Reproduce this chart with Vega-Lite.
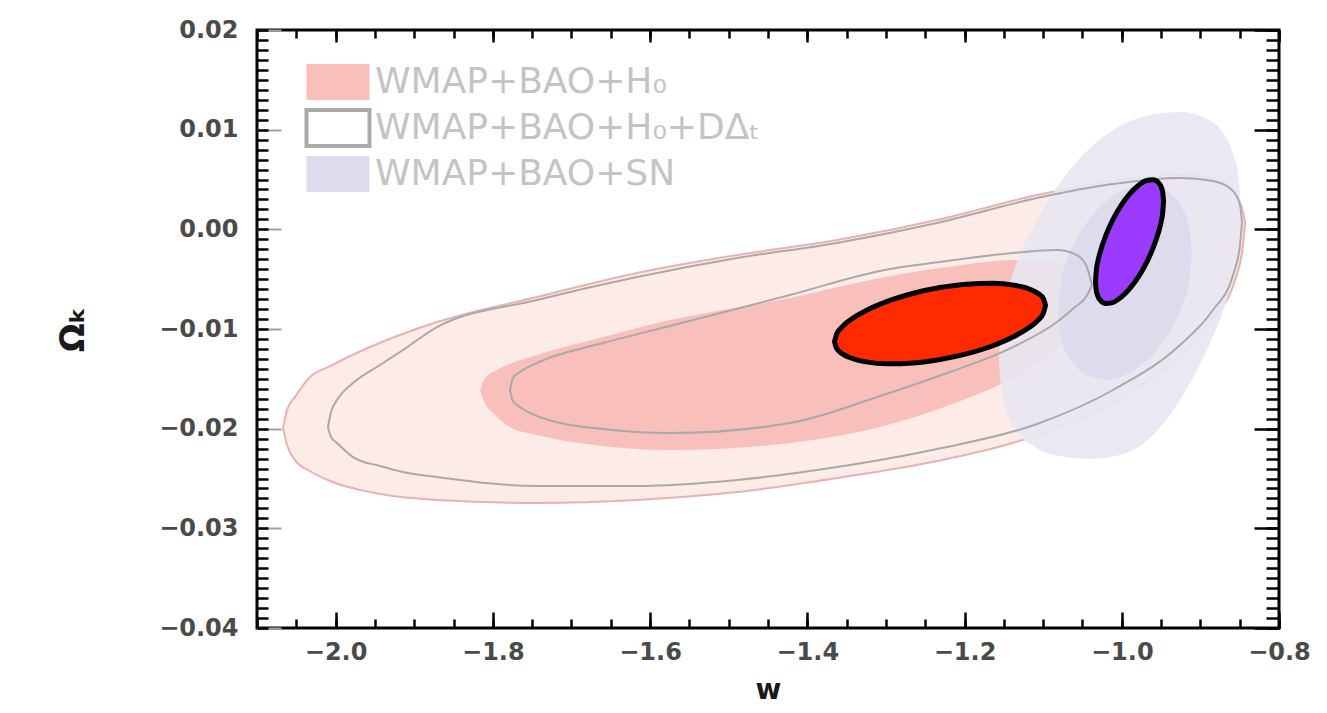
{
  "$schema": "https://vega.github.io/schema/vega-lite/v6.json",
  "width": 1022,
  "height": 598,
  "autosize": {"type": "none"},
  "padding": {"left": 257, "top": 30, "right": 48, "bottom": 85},
  "background": "#ffffff",
  "config": {
    "view": {"stroke": "#000000", "strokeWidth": 3},
    "axis": {
      "domain": false, "grid": false, "tickColor": "#000000", "tickWidth": 2.5,
      "labelFont": "DejaVu Sans", "labelFontSize": 24, "labelFontWeight": "bold", "labelColor": "#4a4a4a",
      "labelFlush": false, "labelOverlap": false, "labelBound": false,
      "titleFont": "DejaVu Sans", "titleColor": "#1a1a1a", "titleFontWeight": "bold"
    }
  },
  "datasets": {
    "po": [
      {"w": -2.0669, "lo": -0.01994, "hi": -0.01994},
      {"w": -2.0618, "lo": -0.02164, "hi": -0.01813},
      {"w": -2.0517, "lo": -0.02315, "hi": -0.01683},
      {"w": -2.0326, "lo": -0.02425, "hi": -0.01482},
      {"w": -2.0071, "lo": -0.02525, "hi": -0.01372},
      {"w": -1.9563, "lo": -0.02636, "hi": -0.01181},
      {"w": -1.8710, "lo": -0.02716, "hi": -0.00930},
      {"w": -1.7438, "lo": -0.02746, "hi": -0.00679},
      {"w": -1.6166, "lo": -0.02716, "hi": -0.00438},
      {"w": -1.4894, "lo": -0.02636, "hi": -0.00258},
      {"w": -1.3622, "lo": -0.02495, "hi": -0.00107},
      {"w": -1.2350, "lo": -0.02325, "hi": 0.00093},
      {"w": -1.1078, "lo": -0.02064, "hi": 0.00344},
      {"w": -1.0112, "lo": -0.01733, "hi": 0.00485},
      {"w": -0.9259, "lo": -0.01261, "hi": 0.00545},
      {"w": -0.8840, "lo": -0.00890, "hi": 0.00515},
      {"w": -0.8560, "lo": -0.00509, "hi": 0.00364},
      {"w": -0.8458, "lo": -0.00158, "hi": 0.00174},
      {"w": -0.8432, "lo": 0.00073, "hi": 0.00073}
    ],
    "pi": [
      {"w": -1.8163, "lo": -0.01612, "hi": -0.01612, "series": "WMAP+BAO+H₀"},
      {"w": -1.8100, "lo": -0.01743, "hi": -0.01492, "series": "WMAP+BAO+H₀"},
      {"w": -1.7973, "lo": -0.01863, "hi": -0.01422, "series": "WMAP+BAO+H₀"},
      {"w": -1.7782, "lo": -0.01984, "hi": -0.01351, "series": "WMAP+BAO+H₀"},
      {"w": -1.7438, "lo": -0.02064, "hi": -0.01261, "series": "WMAP+BAO+H₀"},
      {"w": -1.6599, "lo": -0.02174, "hi": -0.01081, "series": "WMAP+BAO+H₀"},
      {"w": -1.5747, "lo": -0.02214, "hi": -0.00910, "series": "WMAP+BAO+H₀"},
      {"w": -1.4220, "lo": -0.02144, "hi": -0.00689, "series": "WMAP+BAO+H₀"},
      {"w": -1.3075, "lo": -0.01984, "hi": -0.00489, "series": "WMAP+BAO+H₀"},
      {"w": -1.2020, "lo": -0.01713, "hi": -0.00358, "series": "WMAP+BAO+H₀"},
      {"w": -1.1384, "lo": -0.01492, "hi": -0.00308, "series": "WMAP+BAO+H₀"},
      {"w": -1.0913, "lo": -0.01261, "hi": -0.00318, "series": "WMAP+BAO+H₀"},
      {"w": -1.0531, "lo": -0.01010, "hi": -0.00378, "series": "WMAP+BAO+H₀"},
      {"w": -1.0302, "lo": -0.00810, "hi": -0.00489, "series": "WMAP+BAO+H₀"},
      {"w": -1.0175, "lo": -0.00629, "hi": -0.00629, "series": "WMAP+BAO+H₀"}
    ],
    "go": [
      {"w": -2.0097, "lo": -0.01984, "hi": -0.01984},
      {"w": -2.0059, "lo": -0.02084, "hi": -0.01833},
      {"w": -1.9982, "lo": -0.02144, "hi": -0.01713},
      {"w": -1.9779, "lo": -0.02285, "hi": -0.01542},
      {"w": -1.9435, "lo": -0.02375, "hi": -0.01361},
      {"w": -1.9143, "lo": -0.02435, "hi": -0.01211},
      {"w": -1.8710, "lo": -0.02485, "hi": -0.00980},
      {"w": -1.7438, "lo": -0.02575, "hi": -0.00709},
      {"w": -1.6166, "lo": -0.02575, "hi": -0.00479},
      {"w": -1.4894, "lo": -0.02515, "hi": -0.00288},
      {"w": -1.3622, "lo": -0.02385, "hi": -0.00137},
      {"w": -1.2350, "lo": -0.02204, "hi": 0.00063},
      {"w": -1.1078, "lo": -0.01953, "hi": 0.00314},
      {"w": -1.0112, "lo": -0.01612, "hi": 0.00454},
      {"w": -0.9259, "lo": -0.01161, "hi": 0.00515},
      {"w": -0.8840, "lo": -0.00810, "hi": 0.00485},
      {"w": -0.8585, "lo": -0.00459, "hi": 0.00384},
      {"w": -0.8496, "lo": -0.00158, "hi": 0.00244},
      {"w": -0.8471, "lo": 0.00073, "hi": 0.00073}
    ],
    "gi": [
      {"w": -1.7782, "lo": -0.01612, "hi": -0.01612},
      {"w": -1.7744, "lo": -0.01723, "hi": -0.01492},
      {"w": -1.7655, "lo": -0.01783, "hi": -0.01432},
      {"w": -1.7438, "lo": -0.01873, "hi": -0.01341},
      {"w": -1.6599, "lo": -0.02004, "hi": -0.01141},
      {"w": -1.5747, "lo": -0.02044, "hi": -0.00970},
      {"w": -1.4220, "lo": -0.01943, "hi": -0.00659},
      {"w": -1.3075, "lo": -0.01673, "hi": -0.00418},
      {"w": -1.2223, "lo": -0.01442, "hi": -0.00318},
      {"w": -1.1384, "lo": -0.01181, "hi": -0.00238},
      {"w": -1.0824, "lo": -0.00930, "hi": -0.00208},
      {"w": -1.0595, "lo": -0.00780, "hi": -0.00248},
      {"w": -1.0455, "lo": -0.00679, "hi": -0.00358},
      {"w": -1.0379, "lo": -0.00559, "hi": -0.00559}
    ],
    "lo": [
      {"w": -1.1562, "lo": -0.01311, "hi": -0.01311},
      {"w": -1.1531, "lo": -0.01632, "hi": -0.00930},
      {"w": -1.1454, "lo": -0.01853, "hi": -0.00629},
      {"w": -1.1333, "lo": -0.02034, "hi": -0.00328},
      {"w": -1.1104, "lo": -0.02184, "hi": 0.00053},
      {"w": -1.0786, "lo": -0.02275, "hi": 0.00465},
      {"w": -1.0404, "lo": -0.02305, "hi": 0.00816},
      {"w": -1.0022, "lo": -0.02264, "hi": 0.01036},
      {"w": -0.9641, "lo": -0.02094, "hi": 0.01147},
      {"w": -0.9259, "lo": -0.01713, "hi": 0.01177},
      {"w": -0.8941, "lo": -0.01251, "hi": 0.01117},
      {"w": -0.8712, "lo": -0.00820, "hi": 0.00966},
      {"w": -0.8591, "lo": -0.00509, "hi": 0.00776},
      {"w": -0.8514, "lo": -0.00208, "hi": 0.00515},
      {"w": -0.8483, "lo": 0.00174, "hi": 0.00174}
    ],
    "li": [
      {"w": -1.0811, "lo": -0.00825, "hi": -0.00825, "series": "WMAP+BAO+SN"},
      {"w": -1.0773, "lo": -0.01088, "hi": -0.00536, "series": "WMAP+BAO+SN"},
      {"w": -1.0697, "lo": -0.01252, "hi": -0.00317, "series": "WMAP+BAO+SN"},
      {"w": -1.0569, "lo": -0.01392, "hi": -0.00089, "series": "WMAP+BAO+SN"},
      {"w": -1.0391, "lo": -0.01483, "hi": 0.00124, "series": "WMAP+BAO+SN"},
      {"w": -1.0175, "lo": -0.01507, "hi": 0.00299, "series": "WMAP+BAO+SN"},
      {"w": -0.9959, "lo": -0.01462, "hi": 0.00404, "series": "WMAP+BAO+SN"},
      {"w": -0.9743, "lo": -0.01356, "hi": 0.00449, "series": "WMAP+BAO+SN"},
      {"w": -0.9526, "lo": -0.01182, "hi": 0.00425, "series": "WMAP+BAO+SN"},
      {"w": -0.9348, "lo": -0.00968, "hi": 0.00334, "series": "WMAP+BAO+SN"},
      {"w": -0.9221, "lo": -0.00740, "hi": 0.00195, "series": "WMAP+BAO+SN"},
      {"w": -0.9145, "lo": -0.00522, "hi": 0.00030, "series": "WMAP+BAO+SN"},
      {"w": -0.9107, "lo": -0.00233, "hi": -0.00233, "series": "WMAP+BAO+SN"}
    ],
    "red": [
      {"w": -1.3654, "lo": -0.01126, "hi": -0.01126},
      {"w": -1.3627, "lo": -0.01194, "hi": -0.01051},
      {"w": -1.3560, "lo": -0.01246, "hi": -0.00981},
      {"w": -1.3453, "lo": -0.01289, "hi": -0.00909},
      {"w": -1.3251, "lo": -0.01330, "hi": -0.00814},
      {"w": -1.2983, "lo": -0.01349, "hi": -0.00723},
      {"w": -1.2648, "lo": -0.01340, "hi": -0.00641},
      {"w": -1.2312, "lo": -0.01306, "hi": -0.00584},
      {"w": -1.1977, "lo": -0.01250, "hi": -0.00550},
      {"w": -1.1641, "lo": -0.01168, "hi": -0.00542},
      {"w": -1.1373, "lo": -0.01076, "hi": -0.00560},
      {"w": -1.1171, "lo": -0.00981, "hi": -0.00601},
      {"w": -1.1064, "lo": -0.00910, "hi": -0.00644},
      {"w": -1.0997, "lo": -0.00840, "hi": -0.00696},
      {"w": -1.0970, "lo": -0.00764, "hi": -0.00764}
    ],
    "purple": [
      {"w": -1.0334, "lo": -0.00524, "hi": -0.00524},
      {"w": -1.0325, "lo": -0.00610, "hi": -0.00421},
      {"w": -1.0304, "lo": -0.00670, "hi": -0.00321},
      {"w": -1.0269, "lo": -0.00714, "hi": -0.00213},
      {"w": -1.0204, "lo": -0.00743, "hi": -0.00064},
      {"w": -1.0118, "lo": -0.00735, "hi": 0.00089},
      {"w": -1.0010, "lo": -0.00683, "hi": 0.00238},
      {"w": -0.9902, "lo": -0.00598, "hi": 0.00353},
      {"w": -0.9793, "lo": -0.00483, "hi": 0.00438},
      {"w": -0.9685, "lo": -0.00334, "hi": 0.00490},
      {"w": -0.9599, "lo": -0.00181, "hi": 0.00498},
      {"w": -0.9534, "lo": -0.00032, "hi": 0.00469},
      {"w": -0.9499, "lo": 0.00076, "hi": 0.00426},
      {"w": -0.9478, "lo": 0.00176, "hi": 0.00365},
      {"w": -0.9469, "lo": 0.00279, "hi": 0.00279}
    ]
  },
  "resolve": {"axis": {"x": "independent", "y": "independent"}},
  "layer": [
    {
      "data": {"name": "po"},
      "mark": {"type": "area", "fill": "#fdebe7", "stroke": "#e8b2b4", "strokeWidth": 2, "interpolate": "monotone", "strokeJoin": "round"},
      "encoding": {
        "x": {"field": "w", "type": "quantitative", "scale": {"domain": [-2.1, -0.8], "nice": false, "zero": false},
          "axis": {"orient": "bottom", "values": [-2.0, -1.8, -1.6, -1.4, -1.2, -1.0, -0.8], "format": ".1f", "tickSize": -16, "labelPadding": 28, "title": "w", "titleFontSize": 28, "titlePadding": 12}},
        "y": {"field": "lo", "type": "quantitative", "scale": {"domain": [-0.04, 0.02], "nice": false, "zero": false},
          "axis": {"orient": "left", "values": [-0.04, -0.03, -0.02, -0.01, 0, 0.01, 0.02], "format": ".2f", "tickSize": -24, "tickColor": "#a0a0a0", "tickWidth": 2, "labelPadding": 43, "title": "Ωₖ", "titleFontSize": 34, "titlePadding": 68}},
        "y2": {"field": "hi"}
      }
    },
    {
      "data": {"name": "pi"},
      "mark": {"type": "area", "interpolate": "monotone"},
      "encoding": {
        "x": {"field": "w", "type": "quantitative", "scale": {"domain": [-2.1, -0.8], "nice": false, "zero": false},
          "axis": {"orient": "bottom", "values": [-2.1, -2.05, -2.0, -1.95, -1.9, -1.85, -1.8, -1.75, -1.7, -1.65, -1.6, -1.55, -1.5, -1.45, -1.4, -1.35, -1.3, -1.25, -1.2, -1.15, -1.1, -1.05, -1.0, -0.95, -0.9, -0.85, -0.8], "labels": false, "tickSize": -9, "title": null}},
        "y": {"field": "lo", "type": "quantitative", "scale": {"domain": [-0.04, 0.02], "nice": false, "zero": false},
          "axis": {"orient": "left", "values": [-0.04, -0.039, -0.038, -0.037, -0.036, -0.035, -0.034, -0.033, -0.032, -0.031, -0.03, -0.029, -0.028, -0.027, -0.026, -0.025, -0.024, -0.023, -0.022, -0.021, -0.02, -0.019, -0.018, -0.017, -0.016, -0.015, -0.014, -0.013, -0.012, -0.011, -0.01, -0.009, -0.008, -0.007, -0.006, -0.005, -0.004, -0.003, -0.002, -0.001, 0, 0.001, 0.002, 0.003, 0.004, 0.005, 0.006, 0.007, 0.008, 0.009, 0.01, 0.011, 0.012, 0.013, 0.014, 0.015, 0.016, 0.017, 0.018, 0.019, 0.02], "labels": false, "tickSize": -11, "title": null}},
        "y2": {"field": "hi"},
        "color": {"field": "series", "type": "nominal",
          "scale": {"domain": ["WMAP+BAO+H₀", "WMAP+BAO+H₀+DΔₜ", "WMAP+BAO+SN"], "range": ["#f9bfbb", "#ffffff", "#dddbec"]},
          "legend": {
            "orient": "none", "legendX": 61, "legendY": 32, "title": null, "padding": 0,
            "symbolType": "M-1.75,-1L1.75,-1L1.75,1L-1.75,1Z", "symbolSize": 1296, "symbolOpacity": 1,
            "labelFont": "DejaVu Sans", "labelFontSize": 36, "labelColor": "#c4c4c4", "labelOffset": 17, "labelLimit": 1000,
            "rowPadding": -13,
            "encode": {"symbols": {"update": {"stroke": {"signal": "datum.value === 'WMAP+BAO+H₀+DΔₜ' ? '#aaaaaa' : 'transparent'"}, "strokeWidth": {"value": 4}}}}
          }}
      }
    },
    {
      "data": {"name": "lo"},
      "mark": {"type": "area", "fill": "#e8e7f2", "opacity": 0.9, "interpolate": "monotone"},
      "encoding": {
        "x": {"field": "w", "type": "quantitative", "scale": {"domain": [-2.1, -0.8], "nice": false, "zero": false},
          "axis": {"orient": "top", "values": [-2.0, -1.8, -1.6, -1.4, -1.2, -1.0, -0.8], "labels": false, "tickSize": -12, "title": null}},
        "y": {"field": "lo", "type": "quantitative", "scale": {"domain": [-0.04, 0.02], "nice": false, "zero": false},
          "axis": {"orient": "right", "values": [-0.04, -0.03, -0.02, -0.01, 0, 0.01, 0.02], "labels": false, "tickSize": -25, "title": null}},
        "y2": {"field": "hi"}
      }
    },
    {
      "data": {"name": "li"},
      "mark": {"type": "area", "interpolate": "monotone"},
      "encoding": {
        "x": {"field": "w", "type": "quantitative", "scale": {"domain": [-2.1, -0.8], "nice": false, "zero": false},
          "axis": {"orient": "top", "values": [-2.1, -2.05, -2.0, -1.95, -1.9, -1.85, -1.8, -1.75, -1.7, -1.65, -1.6, -1.55, -1.5, -1.45, -1.4, -1.35, -1.3, -1.25, -1.2, -1.15, -1.1, -1.05, -1.0, -0.95, -0.9, -0.85, -0.8], "labels": false, "tickSize": -8, "title": null}},
        "y": {"field": "lo", "type": "quantitative", "scale": {"domain": [-0.04, 0.02], "nice": false, "zero": false},
          "axis": {"orient": "right", "values": [-0.04, -0.039, -0.038, -0.037, -0.036, -0.035, -0.034, -0.033, -0.032, -0.031, -0.03, -0.029, -0.028, -0.027, -0.026, -0.025, -0.024, -0.023, -0.022, -0.021, -0.02, -0.019, -0.018, -0.017, -0.016, -0.015, -0.014, -0.013, -0.012, -0.011, -0.01, -0.009, -0.008, -0.007, -0.006, -0.005, -0.004, -0.003, -0.002, -0.001, 0, 0.001, 0.002, 0.003, 0.004, 0.005, 0.006, 0.007, 0.008, 0.009, 0.01, 0.011, 0.012, 0.013, 0.014, 0.015, 0.016, 0.017, 0.018, 0.019, 0.02], "labels": false, "tickSize": -13, "title": null}},
        "y2": {"field": "hi"},
        "color": {"field": "series", "type": "nominal",
          "scale": {"domain": ["WMAP+BAO+H₀", "WMAP+BAO+H₀+DΔₜ", "WMAP+BAO+SN"], "range": ["#f9bfbb", "#ffffff", "#dddbec"]}}
      }
    },
    {
      "data": {"name": "go"},
      "mark": {"type": "area", "fill": "transparent", "stroke": "#a9a9a9", "strokeWidth": 2, "interpolate": "monotone", "strokeJoin": "round"},
      "encoding": {
        "x": {"field": "w", "type": "quantitative", "scale": {"domain": [-2.1, -0.8], "nice": false, "zero": false}, "axis": null},
        "y": {"field": "lo", "type": "quantitative", "scale": {"domain": [-0.04, 0.02], "nice": false, "zero": false}, "axis": null},
        "y2": {"field": "hi"}
      }
    },
    {
      "data": {"name": "gi"},
      "mark": {"type": "area", "fill": "transparent", "stroke": "#a9a9a9", "strokeWidth": 2, "interpolate": "monotone", "strokeJoin": "round"},
      "encoding": {
        "x": {"field": "w", "type": "quantitative", "scale": {"domain": [-2.1, -0.8], "nice": false, "zero": false}, "axis": null},
        "y": {"field": "lo", "type": "quantitative", "scale": {"domain": [-0.04, 0.02], "nice": false, "zero": false}, "axis": null},
        "y2": {"field": "hi"}
      }
    },
    {
      "data": {"name": "red"},
      "mark": {"type": "area", "fill": "#ff2a00", "stroke": "#000000", "strokeWidth": 5, "interpolate": "monotone", "strokeJoin": "round"},
      "encoding": {
        "x": {"field": "w", "type": "quantitative", "scale": {"domain": [-2.1, -0.8], "nice": false, "zero": false}, "axis": null},
        "y": {"field": "lo", "type": "quantitative", "scale": {"domain": [-0.04, 0.02], "nice": false, "zero": false}, "axis": null},
        "y2": {"field": "hi"}
      }
    },
    {
      "data": {"name": "purple"},
      "mark": {"type": "area", "fill": "#9b3bff", "stroke": "#000000", "strokeWidth": 5, "interpolate": "monotone", "strokeJoin": "round"},
      "encoding": {
        "x": {"field": "w", "type": "quantitative", "scale": {"domain": [-2.1, -0.8], "nice": false, "zero": false}, "axis": null},
        "y": {"field": "lo", "type": "quantitative", "scale": {"domain": [-0.04, 0.02], "nice": false, "zero": false}, "axis": null},
        "y2": {"field": "hi"}
      }
    }
  ]
}
